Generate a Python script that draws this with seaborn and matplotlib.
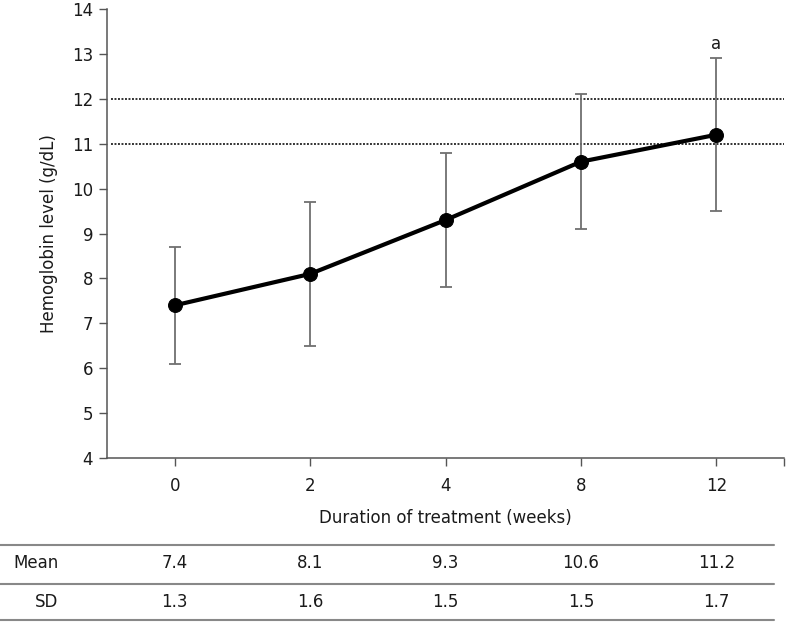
import numpy as np
import pandas as pd
import matplotlib
matplotlib.use("Agg")
import matplotlib.pyplot as plt
from matplotlib.lines import Line2D
import seaborn as sns

# values
weeks = ["0", "2", "4", "8", "12"]
mean_hb = [7.4, 8.1, 9.3, 10.6, 11.2]
sd_hb = [1.3, 1.6, 1.5, 1.5, 1.7]
ref_lines = [11, 12]
y_ticks = list(range(4, 15))

sns.set_style("white")
plt.rcParams['font.family'] = ['DejaVu Sans']
plt.rcParams['text.color'] = '#1a1a1a'
plt.rcParams['axes.labelcolor'] = '#1a1a1a'

df = pd.DataFrame({"pos": np.arange(len(weeks)), "week": weeks,
                   "mean": mean_hb, "sd": sd_hb})

fs = 12
fig = plt.figure(figsize=(7.89, 6.27), dpi=100)
ax = fig.add_axes([0.1356, 0.2695, 0.8581, 0.7161])

# reference range lines
for r in ref_lines:
    ax.axhline(r, xmin=0.006, xmax=1, color="#333333", ls=(0, (1, 0.8)), lw=1.4, zorder=1)

# error bars (SD)
ax.errorbar(df["pos"], df["mean"], yerr=df["sd"], fmt="none", ecolor="#707070",
            elinewidth=1.3, capsize=4, capthick=1.3, zorder=2)

sns.lineplot(data=df, x="pos", y="mean", color="black", lw=3, marker="o",
             markersize=10, markeredgecolor="black", ax=ax, zorder=3)

ax.text(df["pos"].iloc[-1], mean_hb[-1] + sd_hb[-1] + 0.12, "a", ha="center",
        va="bottom", fontsize=fs)

ax.set_xlim(-0.5, len(weeks) - 0.5)
ax.set_ylim(4, 14)
ax.set_yticks(y_ticks)
ax.set_xticks(list(df["pos"]) + [len(weeks) - 0.5])
ax.set_xticklabels(weeks + [""])
ax.tick_params(axis="both", direction="out", length=6, width=1, color="#555555",
               labelsize=fs, labelcolor="#1a1a1a", bottom=True, left=True)
ax.tick_params(axis="x", pad=8)
ax.tick_params(axis="y", pad=4)
for s in ["top", "right"]:
    ax.spines[s].set_visible(False)
for s in ["left", "bottom"]:
    ax.spines[s].set_color("#555555")
    ax.spines[s].set_linewidth(1.1)

ax.set_xlabel("Duration of treatment (weeks)", fontsize=fs, labelpad=10)
ax.set_ylabel("Hemoglobin level (g/dL)", fontsize=fs, labelpad=10)

# table under the plot
trans = matplotlib.transforms.blended_transform_factory(ax.transData, fig.transFigure)
rows = [("Mean", mean_hb, 1 - 563 / 627), ("SD", sd_hb, 1 - 602 / 627)]
for label, vals, yy in rows:
    fig.text(47 / 789 if label == "SD" else 36 / 789, yy, label, ha="center",
             va="center", fontsize=fs)
    for p, v in zip(df["pos"], vals):
        ax.text(p, yy, f"{v:.1f}", transform=trans, ha="center", va="center",
                fontsize=fs, clip_on=False)

for yy in [545, 584, 620]:
    fig.add_artist(Line2D([0, 774 / 789], [1 - yy / 627] * 2, color="#888888", lw=1.5))

fig.savefig("out.png", dpi=100)
